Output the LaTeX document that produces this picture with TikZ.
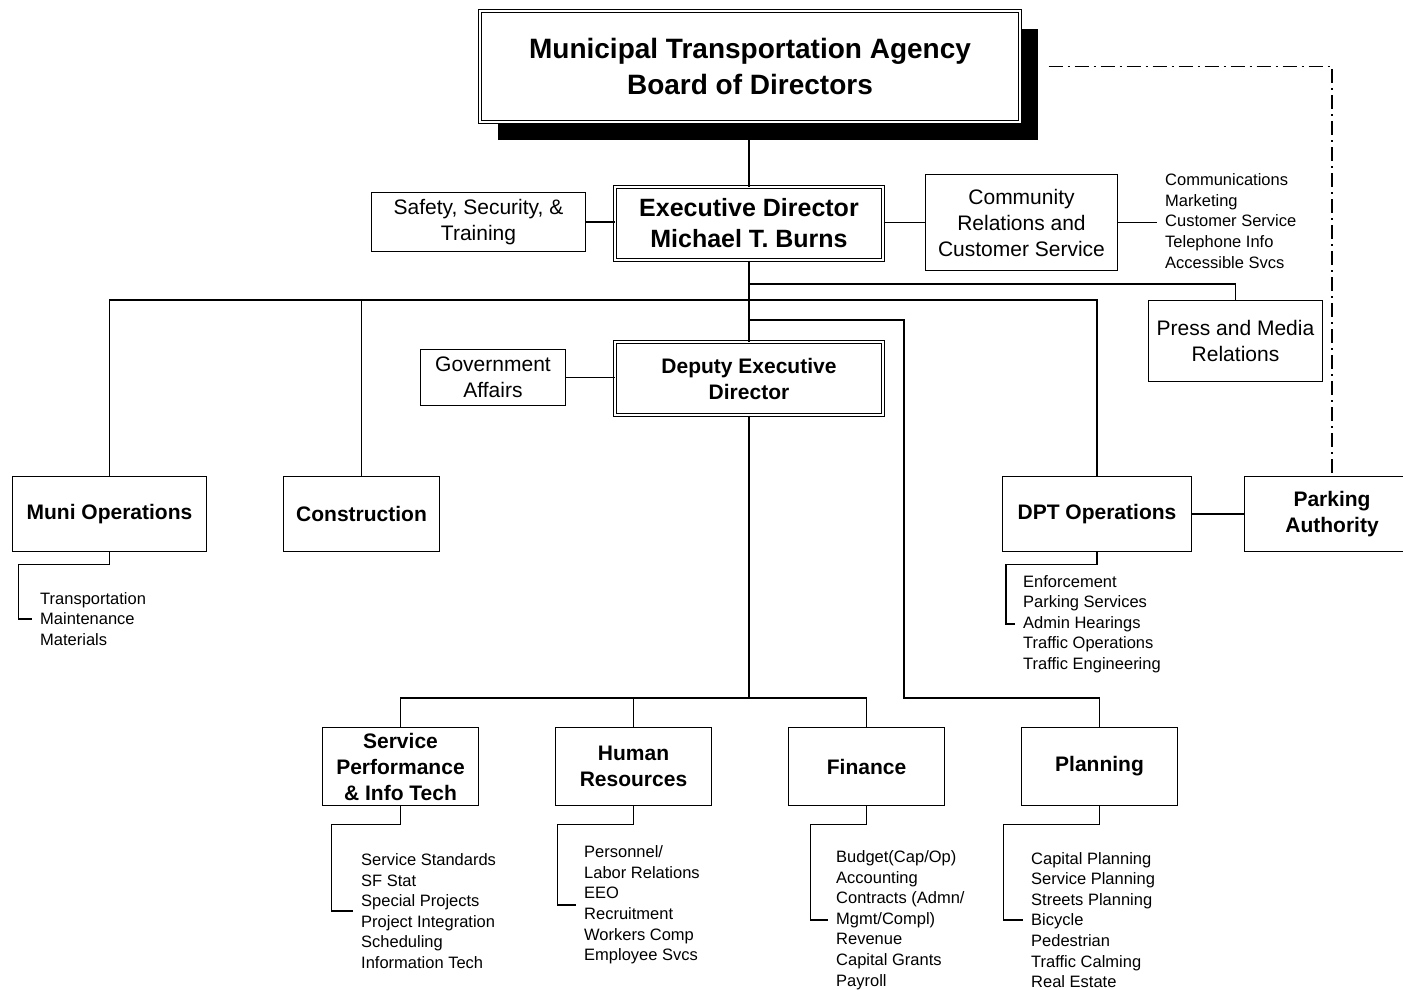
\documentclass[tikz,border=0pt]{standalone}
\usepackage{fontspec}
\setmainfont{Liberation Sans}
\usetikzlibrary{shadows}
\newcommand{\regtext}{\fontsize{21}{26}\selectfont}
\newcommand{\boldtext}{\bfseries\fontsize{21}{26}\selectfont}
\tikzstyle{orgbox} = [draw, line width=1.2pt, fill=white, align=center, inner sep=0pt]
\tikzstyle{headbox} = [orgbox, double, double distance=2pt, line width=1pt]
\tikzstyle{sublist} = [anchor=west, align=left, inner xsep=8pt, inner ysep=0pt, font=\fontsize{16.5}{20.6}\selectfont]
\tikzstyle{wire} = [line width=1.2pt]
\tikzstyle{dotwire} = [line width=1.2pt, dash pattern=on 14pt off 5pt on 2pt off 5pt]

\begin{document}
\begin{tikzpicture}[x=1pt,y=-1pt]
	\clip (0,0) rectangle (1403,990);
	% board and director
	\node[headbox, minimum width=540pt, minimum height=111pt, font=\bfseries\fontsize{28}{36}\selectfont, drop shadow={shadow xshift=18pt, shadow yshift=-18pt, opacity=1, fill=black}] (board) at (750,66.5) {Municipal Transportation Agency\\Board of Directors};
	\node[headbox, minimum width=268pt, minimum height=73pt, font=\bfseries\fontsize{25}{31}\selectfont] (exec) at (749,223.5) {Executive Director\\Michael T. Burns};
	\node[orgbox, minimum width=214pt, minimum height=59pt, font=\regtext] (safety) at (478.5,222) {Safety, Security, \&\\Training};
	\node[orgbox, minimum width=192pt, minimum height=96pt, font=\regtext] (comm) at (1021.5,222.5) {Community\\Relations and\\Customer Service};
	\node[sublist] (commlist) at (1157,221) {Communications\\Marketing\\Customer Service\\Telephone Info\\Accessible Svcs};
	\node[orgbox, minimum width=174pt, minimum height=81pt, font=\regtext] (press) at (1235.5,341) {Press and Media\\Relations};
	\node[headbox, minimum width=268pt, minimum height=73pt, font=\boldtext] (deputy) at (749,378.5) {Deputy Executive\\Director};
	\node[orgbox, minimum width=145pt, minimum height=56pt, font=\regtext] (gov) at (493,377.5) {Government\\Affairs};
	% operations
	\node[orgbox, minimum width=194pt, minimum height=75pt, font=\boldtext] (muni) at (109.5,514) {Muni Operations};
	\node[orgbox, minimum width=156pt, minimum height=75pt, font=\boldtext] (constr) at (361.5,514) {Construction};
	\node[orgbox, minimum width=189pt, minimum height=75pt, font=\boldtext] (dpt) at (1097,514) {DPT Operations};
	\node[orgbox, minimum width=175pt, minimum height=75pt, font=\boldtext] (park) at (1332,514) {Parking\\Authority};
	\node[sublist] (munilist) at (32,619) {Transportation\\Maintenance\\Materials};
	\node[sublist] (dptlist) at (1015,624) {Enforcement\\Parking Services\\Admin Hearings\\Traffic Operations\\Traffic Engineering};
	% divisions
	\node[orgbox, minimum width=156pt, minimum height=78pt, font=\boldtext] (perf) at (400.5,766.5) {Service\\Performance\\\& Info Tech};
	\node[orgbox, minimum width=156pt, minimum height=78pt, font=\boldtext] (hr) at (633.5,766.5) {Human\\Resources};
	\node[orgbox, minimum width=156pt, minimum height=78pt, font=\boldtext] (fin) at (866.5,766.5) {Finance};
	\node[orgbox, minimum width=156pt, minimum height=78pt, font=\boldtext] (plan) at (1099.5,766.5) {Planning};
	\node[sublist] (perflist) at (353,911) {Service Standards\\SF Stat\\Special Projects\\Project Integration\\Scheduling\\Information Tech};
	\node[sublist] (hrlist) at (576,905) {Personnel/\\Labor Relations\\EEO\\Recruitment\\Workers Comp\\Employee Svcs};
	\node[sublist] (finlist) at (828,920) {Budget(Cap/Op)\\Accounting\\Contracts (Admn/\\Mgmt/Compl)\\Revenue\\Capital Grants\\Payroll};
	\node[sublist] (planlist) at (1023,920) {Capital Planning\\Service Planning\\Streets Planning\\Bicycle\\Pedestrian\\Traffic Calming\\Real Estate};
	% bus points
	\coordinate (pbus) at (749,284);
	\coordinate (bus) at (749,300);
	\coordinate (lbus) at (749,320);
	\coordinate (dbus) at (749,698);
	\coordinate (pdrop) at (904,698);
	% lines
	\draw[wire] (exec.north) -- (exec.north |- board.south);
	\draw[wire] (safety.east) -- (safety.east -| exec.west);
	\draw[wire] (exec.east |- comm.west) -- (comm.west);
	\draw[wire] (comm.east) -- (comm.east -| commlist.west);
	\draw[wire] (exec.south) -- (deputy.north);
	\draw[wire] (pbus) -| (press.north);
	\draw[wire] (muni.north) |- (bus) -| (dpt.north);
	\draw[wire] (constr.north) -- (constr.north |- bus);
	\draw[wire] (lbus) -| (pdrop) -| (plan.north);
	\draw[wire] (gov.east) -- (gov.east -| deputy.west);
	\draw[wire] (dpt.east) -- (park.west);
	\draw[wire] (deputy.south) -- (dbus);
	\draw[wire] (perf.north) |- (dbus) -| (fin.north);
	\draw[wire] (hr.north) -- (hr.north |- dbus);
	\draw[dotwire] ([xshift=28pt]board.east) -| (park.north);
	% sub lists
	\draw[wire] (muni.south) |- ++(-91,12) |- (munilist.west);
	\draw[wire] (dpt.south) |- ++(-91,12) |- (dptlist.west);
	\draw[wire] (perf.south) |- ++(-69,18) |- (perflist.west);
	\draw[wire] (hr.south) |- ++(-76,18) |- (hrlist.west);
	\draw[wire] (fin.south) |- ++(-56,18) |- (finlist.west);
	\draw[wire] (plan.south) |- ++(-96,18) |- (planlist.west);
\end{tikzpicture}
\end{document}
